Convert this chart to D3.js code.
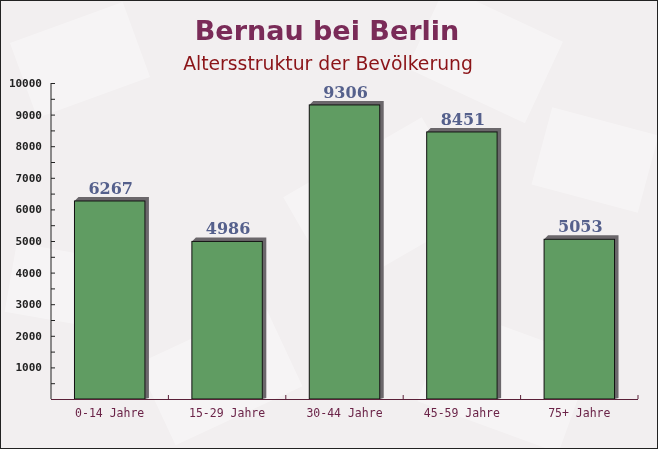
<!DOCTYPE html>
<html><head><meta charset="utf-8">
<script src="https://cdn.jsdelivr.net/npm/d3@7"></script>
<style>body{margin:0;background:#fff}svg{display:block}</style>
</head><body>
<script>
const categories = ["0-14 Jahre","15-29 Jahre","30-44 Jahre","45-59 Jahre","75+ Jahre"];
const values = [6267, 4986, 9306, 8451, 5053];
const yTicks = [1000,2000,3000,4000,5000,6000,7000,8000,9000,10000];
const title = "Bernau bei Berlin";
const subtitle = "Altersstruktur der Bevölkerung";

const W = 658, H = 449;
const svg = d3.select("body").append("svg").attr("width", W).attr("height", H);

// background
svg.append("rect").attr("x",0).attr("y",0).attr("width",W).attr("height",H).attr("fill","#f2eff0");
const deco = svg.append("g").attr("fill","#ffffff").attr("opacity",0.35);
[[20,20,120,80,-20],[420,10,130,90,25],[300,150,160,110,-30],[540,120,110,80,15],[150,330,140,90,-25],[430,330,150,100,20],[10,250,90,70,10]].forEach(d=>{
  deco.append("rect").attr("x",d[0]).attr("y",d[1]).attr("width",d[2]).attr("height",d[3])
    .attr("transform",`rotate(${d[4]},${d[0]+d[2]/2},${d[1]+d[3]/2})`);
});

const x = d3.scaleBand().domain(categories).range([51, 638]).paddingInner(0.4).paddingOuter(0.2);
const y = d3.scaleLinear().domain([0, 10000]).range([399, 83]);

// title
svg.append("text").attr("x",327).attr("y",40).attr("text-anchor","middle")
  .attr("font-family","'DejaVu Sans', Verdana, sans-serif").attr("font-weight","bold")
  .attr("font-size",27).attr("fill","#7a2b58").text(title);
svg.append("text").attr("x",328).attr("y",70).attr("text-anchor","middle")
  .attr("font-family","'DejaVu Sans', Verdana, sans-serif")
  .attr("font-size",18.8).attr("fill","#8b1418").text(subtitle);

// bars
const off = 4;
const g = svg.append("g");
categories.forEach((c,i)=>{
  const x0 = x(c), bw = x.bandwidth(), yt = y(values[i]), yb = y(0);
  g.append("path").attr("fill","#6b676b")
    .attr("d", `M${x0},${yt} L${x0+off},${yt-off} L${x0+bw+off},${yt-off} L${x0+bw+off},${yb-1} L${x0+bw},${yb} L${x0+bw},${yt} Z`);
  g.append("rect").attr("x",x0).attr("y",yt).attr("width",bw).attr("height",yb-yt)
    .attr("fill","#609c62").attr("stroke","#111").attr("stroke-width",1);
  g.append("text").attr("x",x0+bw/2+1).attr("y",yt-off-3).attr("text-anchor","middle")
    .attr("font-family","'DejaVu Serif', Georgia, serif").attr("font-weight","bold")
    .attr("font-size",16).attr("fill","#55608c").text(values[i]);
});

// y axis
const yAxis = d3.axisRight(y).tickValues(d3.range(500,10001,500)).tickSize(4).tickFormat("");
const ya = svg.append("g").attr("transform","translate(51,0)").call(yAxis);
ya.select(".domain").attr("stroke","#222").attr("d",`M0,${y(10000)}V${y(0)}`);
ya.selectAll(".tick line").attr("stroke","#222");
svg.append("g").selectAll("text").data(yTicks).join("text")
  .attr("x",42).attr("y",d=>y(d)+4).attr("text-anchor","end")
  .attr("font-family","'DejaVu Sans Mono', 'Liberation Mono', monospace").attr("font-weight","bold")
  .attr("font-size",11).attr("fill","#222").text(d=>d);

// x axis
const xg = svg.append("g");
xg.append("line").attr("x1",51).attr("x2",638).attr("y1",399.5).attr("y2",399.5).attr("stroke","#5a2038");
categories.forEach((c,i)=>{
  const tx = 51 + x.step()*(i+1);
  xg.append("line").attr("x1",tx).attr("x2",tx).attr("y1",395).attr("y2",399).attr("stroke","#5a2038");
  xg.append("text").attr("x",x(c)+x.bandwidth()/2).attr("y",417).attr("text-anchor","middle")
    .attr("font-family","'DejaVu Sans Mono', 'Liberation Mono', monospace")
    .attr("font-size",11.5).attr("fill","#6b2448").text(c);
});

// border
svg.append("rect").attr("x",0.5).attr("y",0.5).attr("width",W-1).attr("height",H-1)
  .attr("fill","none").attr("stroke","#222");
</script>
</body></html>
